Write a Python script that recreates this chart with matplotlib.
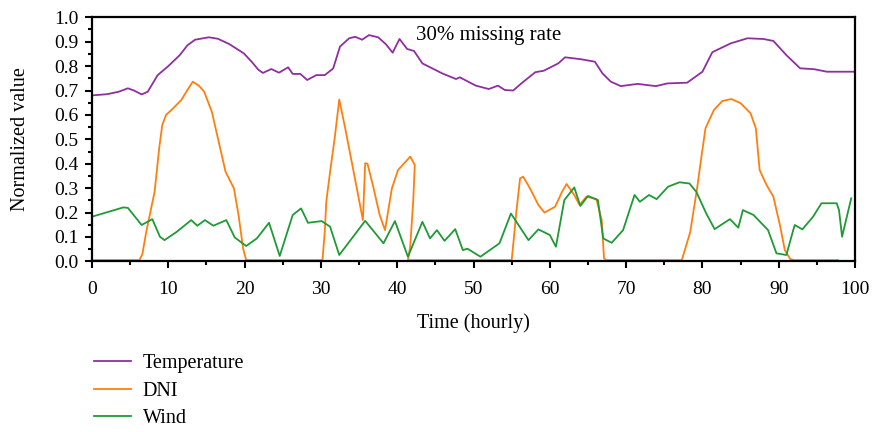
### normalized weather series with 30% missing rate
import matplotlib.pyplot as plt
from matplotlib.ticker import MultipleLocator

### data (time in hours, normalized value)
temp_t = [0, 2, 3.5, 4.7, 5.5, 6.5, 7.3, 8.6, 10, 11.5, 12.5, 13.5, 15.3, 16.5, 18, 19.9,
          21, 21.8, 22.4, 23.5, 24.5, 25.7, 26.3, 27.3, 28.2, 29.4, 30.5, 31.6, 32.5, 33.7,
          34.5, 35.4, 36.3, 37.5, 38.5, 39.4, 40.3, 41.3, 42.2, 43.3, 45.9, 47.7, 48.2, 50.3,
          52.0, 53.2, 54.1, 55.2, 56.3, 58.1, 59.2, 61.1, 62.0, 64.1, 65.9, 66.9, 68.0, 69.3,
          71.5, 73.9, 75.4, 78.0, 80.0, 81.3, 83.7, 85.9, 88.0, 89.3, 91.0, 92.8, 94.7, 96.3, 100]
temp_v = [0.68, 0.685, 0.695, 0.709, 0.70, 0.684, 0.695, 0.763, 0.80, 0.845, 0.885, 0.908, 0.918, 0.912, 0.89, 0.852,
          0.815, 0.785, 0.772, 0.788, 0.773, 0.795, 0.768, 0.768, 0.743, 0.763, 0.763, 0.79, 0.88, 0.914,
          0.92, 0.908, 0.927, 0.918, 0.89, 0.855, 0.911, 0.87, 0.862, 0.811, 0.77, 0.747, 0.754, 0.72,
          0.706, 0.72, 0.702, 0.70, 0.73, 0.775, 0.781, 0.811, 0.836, 0.828, 0.818, 0.77, 0.736, 0.718,
          0.727, 0.718, 0.729, 0.732, 0.777, 0.857, 0.893, 0.914, 0.911, 0.903, 0.845, 0.791, 0.787, 0.777, 0.777]

dni_t = [0, 6.2, 6.6, 7.1, 8.2, 8.8, 9.2, 9.7, 10.4, 11.7, 12.5, 13.2, 14.0, 14.7, 15.7, 16.6,
         17.5, 18.6, 19.2, 19.8, 20.2, 30.2, 30.5, 30.7, 31.2, 31.8, 32.4, 33.1, 34.2, 35.5,
         35.8, 36.1, 36.8, 37.7, 38.4, 39.3, 40.1, 41.7, 42.3, 42.1, 41.7, 41.4, 55.0, 55.3,
         55.6, 56.1, 56.5, 57.4, 58.5, 59.3, 60.7, 61.6, 62.2, 63.2, 63.9, 64.8, 66.1, 66.8,
         67.1, 67.4, 77.3, 78.4, 79.3, 79.9, 80.4, 81.5, 82.6, 83.8, 85.0, 86.3, 87.0, 87.5,
         88.4, 89.3, 90.2, 90.8, 91.5, 92.0, 97.8]
dni_v = [0.005, 0.005, 0.03, 0.12, 0.285, 0.463, 0.558, 0.60, 0.62, 0.661, 0.702, 0.736, 0.72, 0.695, 0.613, 0.49,
         0.367, 0.299, 0.19, 0.053, 0.005, 0.005, 0.12, 0.244, 0.367, 0.504, 0.663, 0.558, 0.381, 0.169,
         0.402, 0.40, 0.313, 0.19, 0.128, 0.299, 0.374, 0.429, 0.395, 0.25, 0.06, 0.005, 0.005, 0.1,
         0.2, 0.34, 0.347, 0.299, 0.231, 0.2, 0.224, 0.285, 0.317, 0.272, 0.231, 0.265, 0.255, 0.169,
         0.013, 0.005, 0.005, 0.12, 0.299, 0.436, 0.545, 0.62, 0.657, 0.665, 0.648, 0.607, 0.545, 0.374,
         0.313, 0.265, 0.142, 0.046, 0.01, 0.005, 0.005]

wind_t = [0, 4.1, 4.7, 6.5, 7.9, 8.9, 9.5, 11.1, 13.0, 13.8, 14.8, 15.9, 17.6, 18.7, 20.2, 21.6,
          23.2, 24.6, 26.3, 27.4, 28.3, 30.1, 31.2, 32.4, 35.8, 38.2, 39.7, 41.4, 43.3, 44.3,
          45.2, 46.2, 47.6, 48.6, 49.2, 50.9, 53.4, 54.9, 57.2, 58.5, 60.0, 60.8, 61.9, 63.2,
          64.0, 65.0, 66.3, 67.0, 68.1, 69.6, 71.1, 71.8, 73.0, 74.0, 75.5, 77.0, 78.3, 79.2,
          80.5, 81.6, 83.6, 84.7, 85.3, 86.7, 88.6, 89.7, 91.0, 91.9, 92.1, 93.1, 94.5, 95.6,
          97.6, 97.9, 98.3, 99.5]
wind_v = [0.183, 0.221, 0.219, 0.149, 0.173, 0.101, 0.087, 0.121, 0.169, 0.146, 0.169, 0.146, 0.169, 0.098, 0.063, 0.094,
          0.158, 0.022, 0.19, 0.217, 0.158, 0.165, 0.142, 0.026, 0.166, 0.074, 0.165, 0.019, 0.162, 0.094,
          0.128, 0.084, 0.132, 0.046, 0.052, 0.019, 0.074, 0.196, 0.087, 0.131, 0.108, 0.06, 0.251, 0.303,
          0.227, 0.268, 0.251, 0.094, 0.076, 0.128, 0.272, 0.244, 0.272, 0.255, 0.306, 0.324, 0.319, 0.285,
          0.196, 0.132, 0.173, 0.138, 0.21, 0.19, 0.128, 0.033, 0.026, 0.128, 0.149, 0.131, 0.183, 0.238,
          0.238, 0.21, 0.101, 0.258]

labels = ['Temperature', 'DNI', 'Wind']
colors = ['#8E2F9F', '#FF7F0E', '#1F9A35']

### figure setup
plt.rcParams['font.family'] = ['Liberation Serif', 'DejaVu Serif']
plt.rcParams['font.size'] = 14

fig = plt.figure(figsize=(8.74, 4.32), dpi=100)
ax = fig.add_axes([0.1053, 0.395, 0.873, 0.565])

ax.plot(temp_t, temp_v, color=colors[0], lw=1.3, label=labels[0])
ax.plot(dni_t, dni_v, color=colors[1], lw=1.3, label=labels[1])
ax.plot(wind_t, wind_v, color=colors[2], lw=1.3, label=labels[2])

ax.set_xlim(0, 100)
ax.set_ylim(0, 1.0)
ax.xaxis.set_major_locator(MultipleLocator(10))
ax.xaxis.set_minor_locator(MultipleLocator(5))
ax.yaxis.set_major_locator(MultipleLocator(0.1))
ax.yaxis.set_minor_locator(MultipleLocator(0.05))
ax.yaxis.set_major_formatter(plt.FormatStrFormatter('%.1f'))

for sp in ax.spines.values():
    sp.set_linewidth(1.6)
ax.tick_params(which='major', direction='out', length=5, width=1.5, labelsize=14)
ax.tick_params(which='minor', direction='out', length=3, width=1.5)
ax.tick_params(axis='x', which='major', pad=9)
ax.tick_params(axis='y', which='major', pad=5)

ax.set_xlabel('Time (hourly)', fontsize=14.5, labelpad=11)
ax.set_ylabel('Normalized value', fontsize=14.5, labelpad=17)

ax.text(52, 0.927, '30% missing rate', ha='center', va='center', fontsize=15)

### legend below the plot
fig.legend(loc='upper left', bbox_to_anchor=(0.108, 0.18), frameon=False,
           handlelength=1.8, handletextpad=0.6, labelspacing=0.42,
           borderpad=0, borderaxespad=0, fontsize=14.5)

fig.savefig('out.png', dpi=100)
